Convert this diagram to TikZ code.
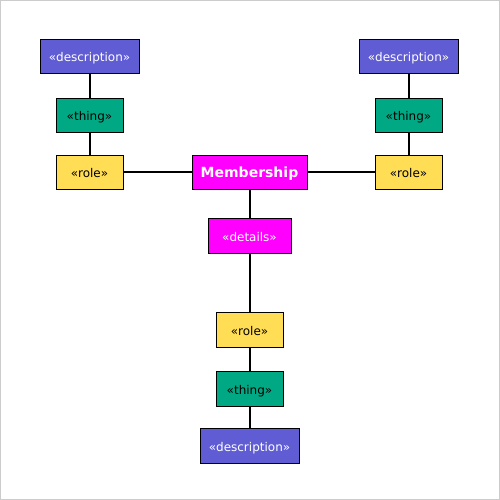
\documentclass[tikz,border=0pt]{standalone}
\usepackage{fontspec}
\setmainfont{DejaVu Sans}
\definecolor{descblue}{RGB}{96,92,212}
\definecolor{thinggreen}{RGB}{0,168,132}
\definecolor{roleyellow}{RGB}{255,221,85}
\definecolor{memberpink}{RGB}{255,0,255}
\begin{document}
\begin{tikzpicture}[x=0.75pt,y=-0.75pt,
  every node/.style={font=\fontsize{9}{11}\selectfont,draw=black,line width=0.75pt,inner sep=0pt,minimum height=25.5pt,text height=0.88em,text depth=0.04em},
  descbox/.style={fill=descblue,text=white,minimum width=74.25pt},
  thingbox/.style={fill=thinggreen,minimum width=50.25pt},
  rolebox/.style={fill=roleyellow,minimum width=50.25pt},
  link/.style={line width=1.5pt}]
\useasboundingbox (0,0) rectangle (500,500);
\draw[black!20,line width=0.75pt] (0.5,0.5) rectangle (499.5,499.5);
% centre: the membership and its details
\node[fill=memberpink,text=white,font=\fontsize{10.5}{12}\selectfont\bfseries,minimum width=86.25pt] (member) at (249.5,172) {Membership};
\node[fill=memberpink,text=white,minimum width=62.25pt,minimum height=26.25pt] (details) at (249.5,235.5) {«details»};
% the two side columns
\foreach \side/\x in {l/89.5,r/408.5} {
  \node[descbox] (desc-\side) at (\x,56) {«description»};
  \node[thingbox] (thing-\side) at (\x,115) {«thing»};
  \node[rolebox] (role-\side) at (\x,172) {«role»};
  \draw[link] (desc-\side) -- (thing-\side) -- (role-\side);
}
% bottom column
\node[rolebox,minimum height=26.25pt] (role-b) at (249.5,329.5) {«role»};
\node[thingbox,minimum height=26.25pt] (thing-b) at (249.5,388.5) {«thing»};
\node[descbox,minimum height=26.25pt] (desc-b) at (249.5,445.5) {«description»};
\draw[link] (role-l) -- (member) -- (role-r);
\draw[link] (member) -- (details) -- (role-b) -- (thing-b) -- (desc-b);
\end{tikzpicture}
\end{document}
